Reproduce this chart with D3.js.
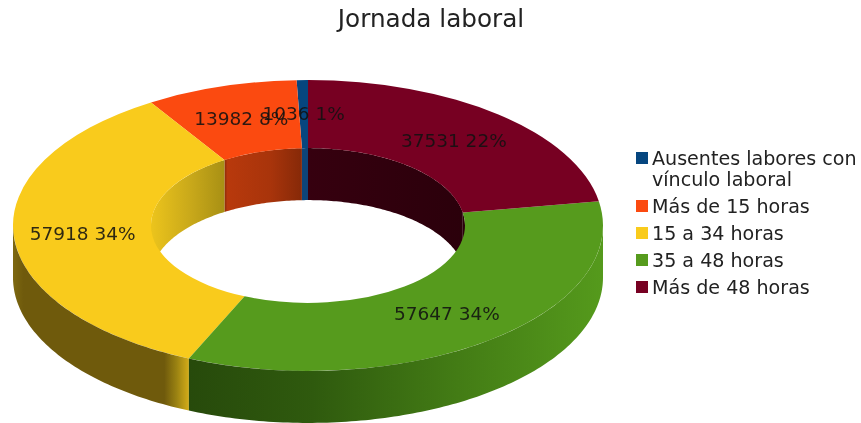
<!DOCTYPE html>
<meta charset="utf-8">
<style>
  html, body { margin: 0; padding: 0; background: #fff; }
  svg { display: block; filter: blur(0.45px); }
  text { font-family: "DejaVu Sans", sans-serif; }
</style>

<script src="https://d3js.org/d3.v7.min.js"></script>

<div id="my_dataviz"></div>

<script>

// data
var categories = ["Ausentes labores con vínculo laboral", "Más de 15 horas", "15 a 34 horas", "35 a 48 horas", "Más de 48 horas"];
var legendLines = [["Ausentes labores con", "vínculo laboral"], ["Más de 15 horas"], ["15 a 34 horas"], ["35 a 48 horas"], ["Más de 48 horas"]];
var values = [1036, 13982, 57918, 57647, 37531];
var colors = ["#06467f", "#fb4a10", "#f9cb1c", "#569b1d", "#770022"];

var width = 861, height = 423;

// ring geometry
var cx = 308, cy = 225.5,
    rOuter = 295, rInner = 157,
    squash = 0.493,
    depth = 52;

var svg = d3.select("#my_dataviz")
  .append("svg")
    .attr("width", width)
    .attr("height", height);

// wall shading, one gradient per slice and side
function gradient(id, stops) {
  var g = defs.append("linearGradient").attr("id", id);
  stops.forEach(function(s) {
    g.append("stop").attr("offset", s[0]).attr("stop-color", s[1]);
  });
}
var defs = svg.append("defs");
gradient("outer2", [[0, "#7d6810"], [0.06, "#6f5a0c"], [0.86, "#6f5a0c"], [0.93, "#9a8212"], [1, "#d4ac18"]]);
gradient("outer3", [[0, "#274a0b"], [0.3, "#2f5a0e"], [0.65, "#437c15"], [1, "#559a1c"]]);
gradient("inner1", [[0, "#8a2a08"], [0.04, "#b8390c"], [0.6, "#a8340b"], [1, "#862908"]]);
gradient("inner2", [[0, "#ecc41c"], [0.55, "#c8a81a"], [1, "#a89014"]]);
gradient("inner4", [[0, "#36000f"], [1, "#2b000b"]]);

var pie = d3.pie().sort(null).startAngle(0).endAngle(-2 * Math.PI);
var arcs = pie(values);
var total = d3.sum(values);

var arc = d3.arc().innerRadius(rInner).outerRadius(rOuter);

// point on the squashed ellipse for a d3 arc angle
var wallLine = d3.line();
function wallPath(a0, a1, r) {
  var n = Math.max(2, Math.ceil(Math.abs(a1 - a0) * 60));
  var angles = d3.range(n + 1).map(function(i) { return a0 + (a1 - a0) * i / n; });
  var top = angles.map(function(a) { return [r * Math.sin(a), -r * Math.cos(a) * squash]; });
  var bottom = top.slice().reverse().map(function(p) { return [p[0], p[1] + depth]; });
  return wallLine(top.concat(bottom)) + "Z";
}

var chart = svg.append("g").attr("transform", "translate(" + cx + "," + cy + ")");

// inner walls: only the far half of the hole shows
var innerWalls = chart.append("g");
arcs.forEach(function(d, i) {
  [[0, -Math.PI / 2], [-3 * Math.PI / 2, -2 * Math.PI]].forEach(function(range) {
    var a0 = Math.min(d.startAngle, range[0]), a1 = Math.max(d.endAngle, range[1]);
    if (a0 <= a1) return;
    var fill = i == 0 ? "#0d4478" : i == 3 ? "#2b000b" : "url(#inner" + i + ")";
    innerWalls.append("path").attr("d", wallPath(a0, a1, rInner)).attr("fill", fill);
  });
});

// top face
chart.append("g")
    .attr("transform", "scale(1," + squash + ")")
  .selectAll("path")
  .data(arcs)
  .enter()
  .append("path")
    .attr("d", arc)
    .attr("fill", function(d, i) { return colors[i]; });

// outer walls: only the near half shows
var outerWalls = chart.append("g");
arcs.forEach(function(d, i) {
  var a0 = Math.min(d.startAngle, -Math.PI / 2), a1 = Math.max(d.endAngle, -3 * Math.PI / 2);
  if (a0 <= a1) return;
  outerWalls.append("path").attr("d", wallPath(a0, a1, rOuter)).attr("fill", "url(#outer" + i + ")");
});

// slice labels at the centroid of each slice
chart.selectAll("text.slice")
  .data(arcs)
  .enter()
  .append("text")
    .attr("class", "slice")
    .attr("x", function(d) { return arc.centroid(d)[0]; })
    .attr("y", function(d) { return arc.centroid(d)[1] * squash; })
    .attr("dy", "0.34em")
    .attr("text-anchor", "middle")
    .style("font-size", "18.5px")
    .style("fill", "#111")
    .style("fill-opacity", 0.88)
    .text(function(d) { return d.value + " " + Math.round(d.value / total * 100 - 0.01) + "%"; });

// title
svg.append("text")
    .attr("x", 431)
    .attr("y", 27)
    .attr("text-anchor", "middle")
    .style("font-size", "24.7px")
    .style("fill", "#222")
    .text("Jornada laboral");

// legend
var legend = svg.append("g");
var ly = 158;
categories.forEach(function(c, i) {
  legend.append("rect")
      .attr("x", 636)
      .attr("y", ly - 6)
      .attr("width", 12)
      .attr("height", 12)
      .attr("fill", colors[i]);
  legendLines[i].forEach(function(line, j) {
    legend.append("text")
        .attr("x", 652)
        .attr("y", ly + j * 21)
        .attr("dy", "0.36em")
        .style("font-size", "19.1px")
        .style("fill", "#222")
        .text(line);
  });
  ly += legendLines[i].length * 21 + 6;
});

</script>
